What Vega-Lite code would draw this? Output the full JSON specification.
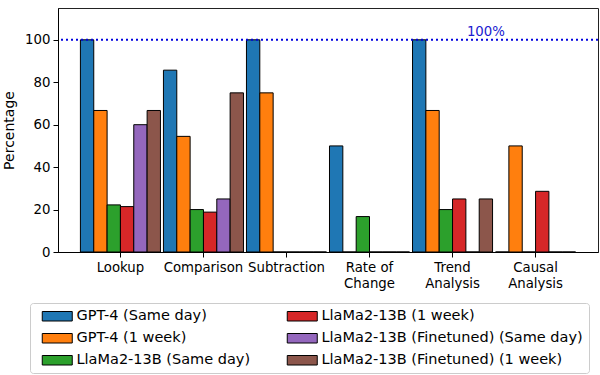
{
  "$schema": "https://vega.github.io/schema/vega-lite/v6.json",
  "width": 540,
  "height": 244,
  "autosize": {"type": "none"},
  "padding": {"left": 58, "top": 8, "right": 2, "bottom": 123},
  "config": {
    "font": "DejaVu Sans",
    "view": {"stroke": "#222", "strokeWidth": 1},
    "axis": {"labelColor": "black", "titleColor": "black", "tickColor": "black", "domainColor": "black", "labelFontSize": 13.3, "titleFontSize": 14, "titleFontWeight": "normal", "grid": false, "tickSize": 5, "labelPadding": 3}
  },
  "data": {"values": [
    {"task": "Lookup", "model": "GPT-4 (Same day)", "value": 100},
    {"task": "Lookup", "model": "GPT-4 (1 week)", "value": 66.7},
    {"task": "Lookup", "model": "LlaMa2-13B (Same day)", "value": 22.2},
    {"task": "Lookup", "model": "LlaMa2-13B (1 week)", "value": 21.4},
    {"task": "Lookup", "model": "LlaMa2-13B (Finetuned) (Same day)", "value": 60},
    {"task": "Lookup", "model": "LlaMa2-13B (Finetuned) (1 week)", "value": 66.7},
    {"task": "Comparison", "model": "GPT-4 (Same day)", "value": 85.7},
    {"task": "Comparison", "model": "GPT-4 (1 week)", "value": 54.5},
    {"task": "Comparison", "model": "LlaMa2-13B (Same day)", "value": 20},
    {"task": "Comparison", "model": "LlaMa2-13B (1 week)", "value": 18.8},
    {"task": "Comparison", "model": "LlaMa2-13B (Finetuned) (Same day)", "value": 25},
    {"task": "Comparison", "model": "LlaMa2-13B (Finetuned) (1 week)", "value": 75},
    {"task": "Subtraction", "model": "GPT-4 (Same day)", "value": 100},
    {"task": "Subtraction", "model": "GPT-4 (1 week)", "value": 75},
    {"task": "Subtraction", "model": "LlaMa2-13B (Same day)", "value": 0},
    {"task": "Subtraction", "model": "LlaMa2-13B (1 week)", "value": 0},
    {"task": "Subtraction", "model": "LlaMa2-13B (Finetuned) (Same day)", "value": 0},
    {"task": "Subtraction", "model": "LlaMa2-13B (Finetuned) (1 week)", "value": 0},
    {"task": "Rate of Change", "model": "GPT-4 (Same day)", "value": 50},
    {"task": "Rate of Change", "model": "GPT-4 (1 week)", "value": 0},
    {"task": "Rate of Change", "model": "LlaMa2-13B (Same day)", "value": 16.7},
    {"task": "Rate of Change", "model": "LlaMa2-13B (1 week)", "value": 0},
    {"task": "Rate of Change", "model": "LlaMa2-13B (Finetuned) (Same day)", "value": 0},
    {"task": "Rate of Change", "model": "LlaMa2-13B (Finetuned) (1 week)", "value": 0},
    {"task": "Trend Analysis", "model": "GPT-4 (Same day)", "value": 100},
    {"task": "Trend Analysis", "model": "GPT-4 (1 week)", "value": 66.7},
    {"task": "Trend Analysis", "model": "LlaMa2-13B (Same day)", "value": 20},
    {"task": "Trend Analysis", "model": "LlaMa2-13B (1 week)", "value": 25},
    {"task": "Trend Analysis", "model": "LlaMa2-13B (Finetuned) (Same day)", "value": 0},
    {"task": "Trend Analysis", "model": "LlaMa2-13B (Finetuned) (1 week)", "value": 25},
    {"task": "Causal Analysis", "model": "GPT-4 (Same day)", "value": 0},
    {"task": "Causal Analysis", "model": "GPT-4 (1 week)", "value": 50},
    {"task": "Causal Analysis", "model": "LlaMa2-13B (Same day)", "value": 0},
    {"task": "Causal Analysis", "model": "LlaMa2-13B (1 week)", "value": 28.6},
    {"task": "Causal Analysis", "model": "LlaMa2-13B (Finetuned) (Same day)", "value": 0},
    {"task": "Causal Analysis", "model": "LlaMa2-13B (Finetuned) (1 week)", "value": 0}
  ]},
  "layer": [
    {
      "mark": {"type": "bar", "stroke": "black", "strokeWidth": 1, "opacity": 1},
      "encoding": {
        "x": {
          "field": "task", "type": "nominal",
          "sort": ["Lookup", "Comparison", "Subtraction", "Rate of Change", "Trend Analysis", "Causal Analysis"],
          "scale": {"paddingInner": 0.036, "paddingOuter": 0.27},
          "axis": {"title": null, "labelAngle": 0, "labelLineHeight": 16,
            "labelExpr": "datum.label == 'Rate of Change' ? ['Rate of', 'Change'] : datum.label == 'Trend Analysis' ? ['Trend', 'Analysis'] : datum.label == 'Causal Analysis' ? ['Causal', 'Analysis'] : datum.label"}
        },
        "xOffset": {
          "field": "model", "type": "nominal",
          "sort": ["GPT-4 (Same day)", "GPT-4 (1 week)", "LlaMa2-13B (Same day)", "LlaMa2-13B (1 week)", "LlaMa2-13B (Finetuned) (Same day)", "LlaMa2-13B (Finetuned) (1 week)"],
          "scale": {"paddingInner": 0, "paddingOuter": 0}
        },
        "y": {
          "field": "value", "type": "quantitative",
          "scale": {"domain": [0, 115], "nice": false},
          "axis": {"title": "Percentage", "values": [0, 20, 40, 60, 80, 100], "titlePadding": 8}
        },
        "color": {
          "field": "model", "type": "nominal",
          "sort": ["GPT-4 (Same day)", "GPT-4 (1 week)", "LlaMa2-13B (Same day)", "LlaMa2-13B (1 week)", "LlaMa2-13B (Finetuned) (Same day)", "LlaMa2-13B (Finetuned) (1 week)"],
          "scale": {
            "domain": ["GPT-4 (Same day)", "GPT-4 (1 week)", "LlaMa2-13B (Same day)", "LlaMa2-13B (1 week)", "LlaMa2-13B (Finetuned) (Same day)", "LlaMa2-13B (Finetuned) (1 week)"],
            "range": ["#1f77b4", "#ff7f0e", "#2ca02c", "#d62728", "#9467bd", "#8c564b"]
          },
          "legend": {
            "title": null,
            "orient": "none",
            "legendX": -28,
            "legendY": 295,
            "direction": "vertical",
            "columns": 2,
            "labelFontSize": 14.5,
            "labelColor": "black",
            "labelOffset": 26,
            "columnPadding": 30,
            "rowPadding": 7,
            "padding": 6,
            "strokeColor": "#cccccc",
            "fillColor": "white",
            "cornerRadius": 3,
            "symbolType": "M-0.2,-0.95H5.8V0.95H-0.2Z",
            "symbolSize": 100,
            "symbolStrokeColor": "black",
            "symbolStrokeWidth": 1,
            "symbolOpacity": 1,
            "labelLimit": 400
          }
        }
      }
    },
    {
      "data": {"values": [{}]},
      "mark": {"type": "rule", "color": "#0000dd", "strokeWidth": 2, "strokeDash": [2, 3]},
      "encoding": {"y": {"datum": 100}}
    },
    {
      "data": {"values": [{}]},
      "mark": {"type": "text", "color": "#1a1ad0", "fontSize": 13.3, "baseline": "bottom", "dy": -1},
      "encoding": {
        "x": {"datum": "Trend Analysis"},
        "xOffset": {"datum": "LlaMa2-13B (Finetuned) (1 week)"},
        "y": {"datum": 100},
        "text": {"value": "100%"}
      }
    }
  ]
}
